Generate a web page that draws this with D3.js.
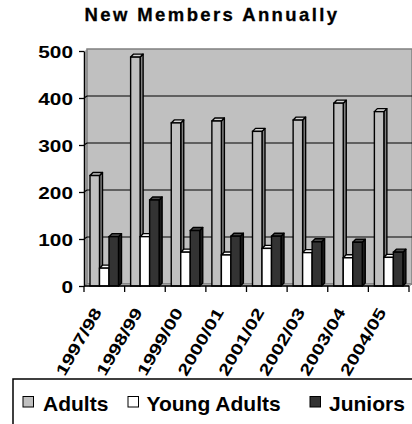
<!DOCTYPE html>
<html>
<head>
  <meta charset="utf-8">
  <title>New Members Annually</title>
  <script src="https://d3js.org/d3.v7.min.js"></script>
  <style>
    body { margin: 0; background: #fff; }
    svg { display: block; }
    text { font-family: "Liberation Sans", Arial, sans-serif; font-weight: bold; fill: #000; }
  </style>
</head>
<body>
  <svg width="412" height="424"></svg>
  <script>
    var categories = ["1997/98", "1998/99", "1999/00", "2000/01", "2001/02", "2002/03", "2003/04", "2004/05"];
    var adults = [235, 487, 347, 351, 329, 353, 389, 371];
    var youngAdults = [38, 105, 72, 66, 80, 71, 60, 61];
    var juniors = [105, 183, 118, 106, 106, 94, 93, 72];
    var seriesNames = ["Adults", "Young Adults", "Juniors"];
    var yTicks = [0, 100, 200, 300, 400, 500];

    // face colours per series: front, side, top
    var faces = [
      { front: "#c0c0c0", side: "#808080", top: "#d4d4d4" },
      { front: "#ffffff", side: "#c0c0c0", top: "#ffffff" },
      { front: "#333333", side: "#1c1c1c", top: "#4a4a4a" }
    ];

    var svg = d3.select("svg");

    // depth offset of the 3d look
    var dx = 3, dy = -2;
    var bx = 3, by = -3;

    var y = d3.scaleLinear().domain([0, 500]).range([286, 51]);
    var x0 = d3.scaleBand().domain(categories).range([84, 409]);
    var x1 = d3.scaleBand().domain(seriesNames).range([6, 34.5]);

    var left = 84, right = 409;

    // title
    svg.append("text")
        .attr("x", 212)
        .attr("y", 21)
        .attr("text-anchor", "middle")
        .style("font-size", "18.5px")
        .style("letter-spacing", "2.4px")
        .style("stroke", "#000")
        .style("stroke-width", "0.3px")
        .text("New Members Annually");

    // walls + floor
    var g = svg.append("g");
    g.append("polygon")
        .attr("points", [[left, y(0)], [left + dx, y(0) + dy], [left + dx, y(500) + dy], [left, y(500)]].join(" "))
        .attr("fill", "#c0c0c0");
    g.append("rect")
        .attr("x", left + dx)
        .attr("y", y(500) + dy)
        .attr("width", right - left)
        .attr("height", y(0) - y(500))
        .attr("fill", "#c0c0c0")
        .attr("stroke", "#808080")
        .attr("stroke-width", 1.5);
    g.append("polygon")
        .attr("points", [[left, y(0)], [right, y(0)], [right + dx, y(0) + dy], [left + dx, y(0) + dy]].join(" "))
        .attr("fill", "#c0c0c0")
        .attr("stroke", "#808080");

    // gridlines on the back wall
    g.selectAll(".grid")
        .data(yTicks.filter(function(d) { return d > 0 && d < 500; }))
        .enter()
        .append("polyline")
        .attr("class", "grid")
        .attr("points", function(d) {
          return [[left, y(d)], [left + dx, y(d) + dy], [right + dx, y(d) + dy]].join(" ");
        })
        .attr("fill", "none")
        .attr("stroke", "#000")
        .attr("stroke-width", 1.2);

    // bars, drawn left to right so each covers its neighbour's side
    var rows = [];
    categories.forEach(function(c, i) {
      rows.push({ cat: c, s: 0, v: adults[i] });
      rows.push({ cat: c, s: 1, v: youngAdults[i] });
      rows.push({ cat: c, s: 2, v: juniors[i] });
    });

    var bw = x1.bandwidth();
    var bars = svg.append("g").selectAll("g")
        .data(rows)
        .enter()
        .append("g");

    function xl(d) { return x0(d.cat) + x1(seriesNames[d.s]); }

    bars.append("polygon")
        .attr("points", function(d) {
          var a = xl(d) + bw, t = y(d.v), b = y(0);
          return [[a, b], [a + bx, b + by], [a + bx, t + by], [a, t]].join(" ");
        })
        .attr("fill", function(d) { return faces[d.s].side; })
        .attr("stroke", "#000")
        .attr("stroke-width", 1.4)
        .attr("stroke-linejoin", "round");

    bars.append("polygon")
        .attr("points", function(d) {
          var a = xl(d), t = y(d.v);
          return [[a, t], [a + bw, t], [a + bw + bx, t + by], [a + bx, t + by]].join(" ");
        })
        .attr("fill", function(d) { return faces[d.s].top; })
        .attr("stroke", "#000")
        .attr("stroke-width", 1.4)
        .attr("stroke-linejoin", "round");

    bars.append("rect")
        .attr("x", xl)
        .attr("y", function(d) { return y(d.v); })
        .attr("width", bw)
        .attr("height", function(d) { return y(0) - y(d.v); })
        .attr("fill", function(d) { return faces[d.s].front; })
        .attr("stroke", "#000")
        .attr("stroke-width", 1.4);

    // y axis
    var yAxis = svg.append("g")
        .attr("transform", "translate(" + left + ",0)")
        .call(d3.axisLeft(y).tickValues(yTicks).tickSize(5).tickSizeOuter(0));
    yAxis.select(".domain").attr("stroke", "#000").attr("stroke-width", 1.5);
    yAxis.selectAll(".tick line").attr("stroke", "#000").attr("stroke-width", 1.3);
    yAxis.selectAll(".tick text")
        .attr("x", null)
        .attr("dy", null)
        .attr("transform", "translate(-11,6) scale(1.3,1)")
        .attr("text-anchor", "end")
        .style("font-size", "16px")
        .style("font-family", "'Liberation Sans', Arial, sans-serif")
        .style("font-weight", "bold");

    // x axis: ticks on category boundaries
    var xg = svg.append("g");
    xg.append("line")
        .attr("x1", left).attr("x2", right)
        .attr("y1", y(0)).attr("y2", y(0))
        .attr("stroke", "#000").attr("stroke-width", 1.5);
    var bounds = categories.map(function(c) { return x0(c); }).concat([right]);
    xg.selectAll(".xt")
        .data(bounds)
        .enter()
        .append("line")
        .attr("x1", function(d) { return d; })
        .attr("x2", function(d) { return d; })
        .attr("y1", y(0))
        .attr("y2", y(0) + 6)
        .attr("stroke", "#000")
        .attr("stroke-width", 1.3);
    xg.selectAll(".xl")
        .data(categories)
        .enter()
        .append("text")
        .attr("transform", function(d) {
          return "translate(" + (x0(d) + x0.bandwidth() / 2 - 2) + ",312) rotate(-60) scale(1.3,1)";
        })
        .attr("text-anchor", "end")
        .style("font-size", "16px")
        .text(function(d) { return d; });

    // legend
    var legendX = [23, 128, 310];
    var lg = svg.append("g");
    lg.append("rect")
        .attr("x", 13).attr("y", 379)
        .attr("width", 420).attr("height", 60)
        .attr("fill", "#fff")
        .attr("stroke", "#000")
        .attr("stroke-width", 1.5);
    var items = lg.selectAll(".li")
        .data(seriesNames)
        .enter()
        .append("g")
        .attr("transform", function(d, i) { return "translate(" + legendX[i] + ",0)"; });
    items.append("rect")
        .attr("x", 0).attr("y", 396.5)
        .attr("width", 10.5).attr("height", 10.5)
        .attr("fill", function(d, i) { return faces[i].front; })
        .attr("stroke", "#000")
        .attr("stroke-width", 1);
    items.append("text")
        .attr("x", function(d, i) { return [20, 18.5, 19][i]; })
        .attr("y", 411)
        .style("font-size", "21px")
        .text(function(d) { return d; });
  </script>
</body>
</html>
